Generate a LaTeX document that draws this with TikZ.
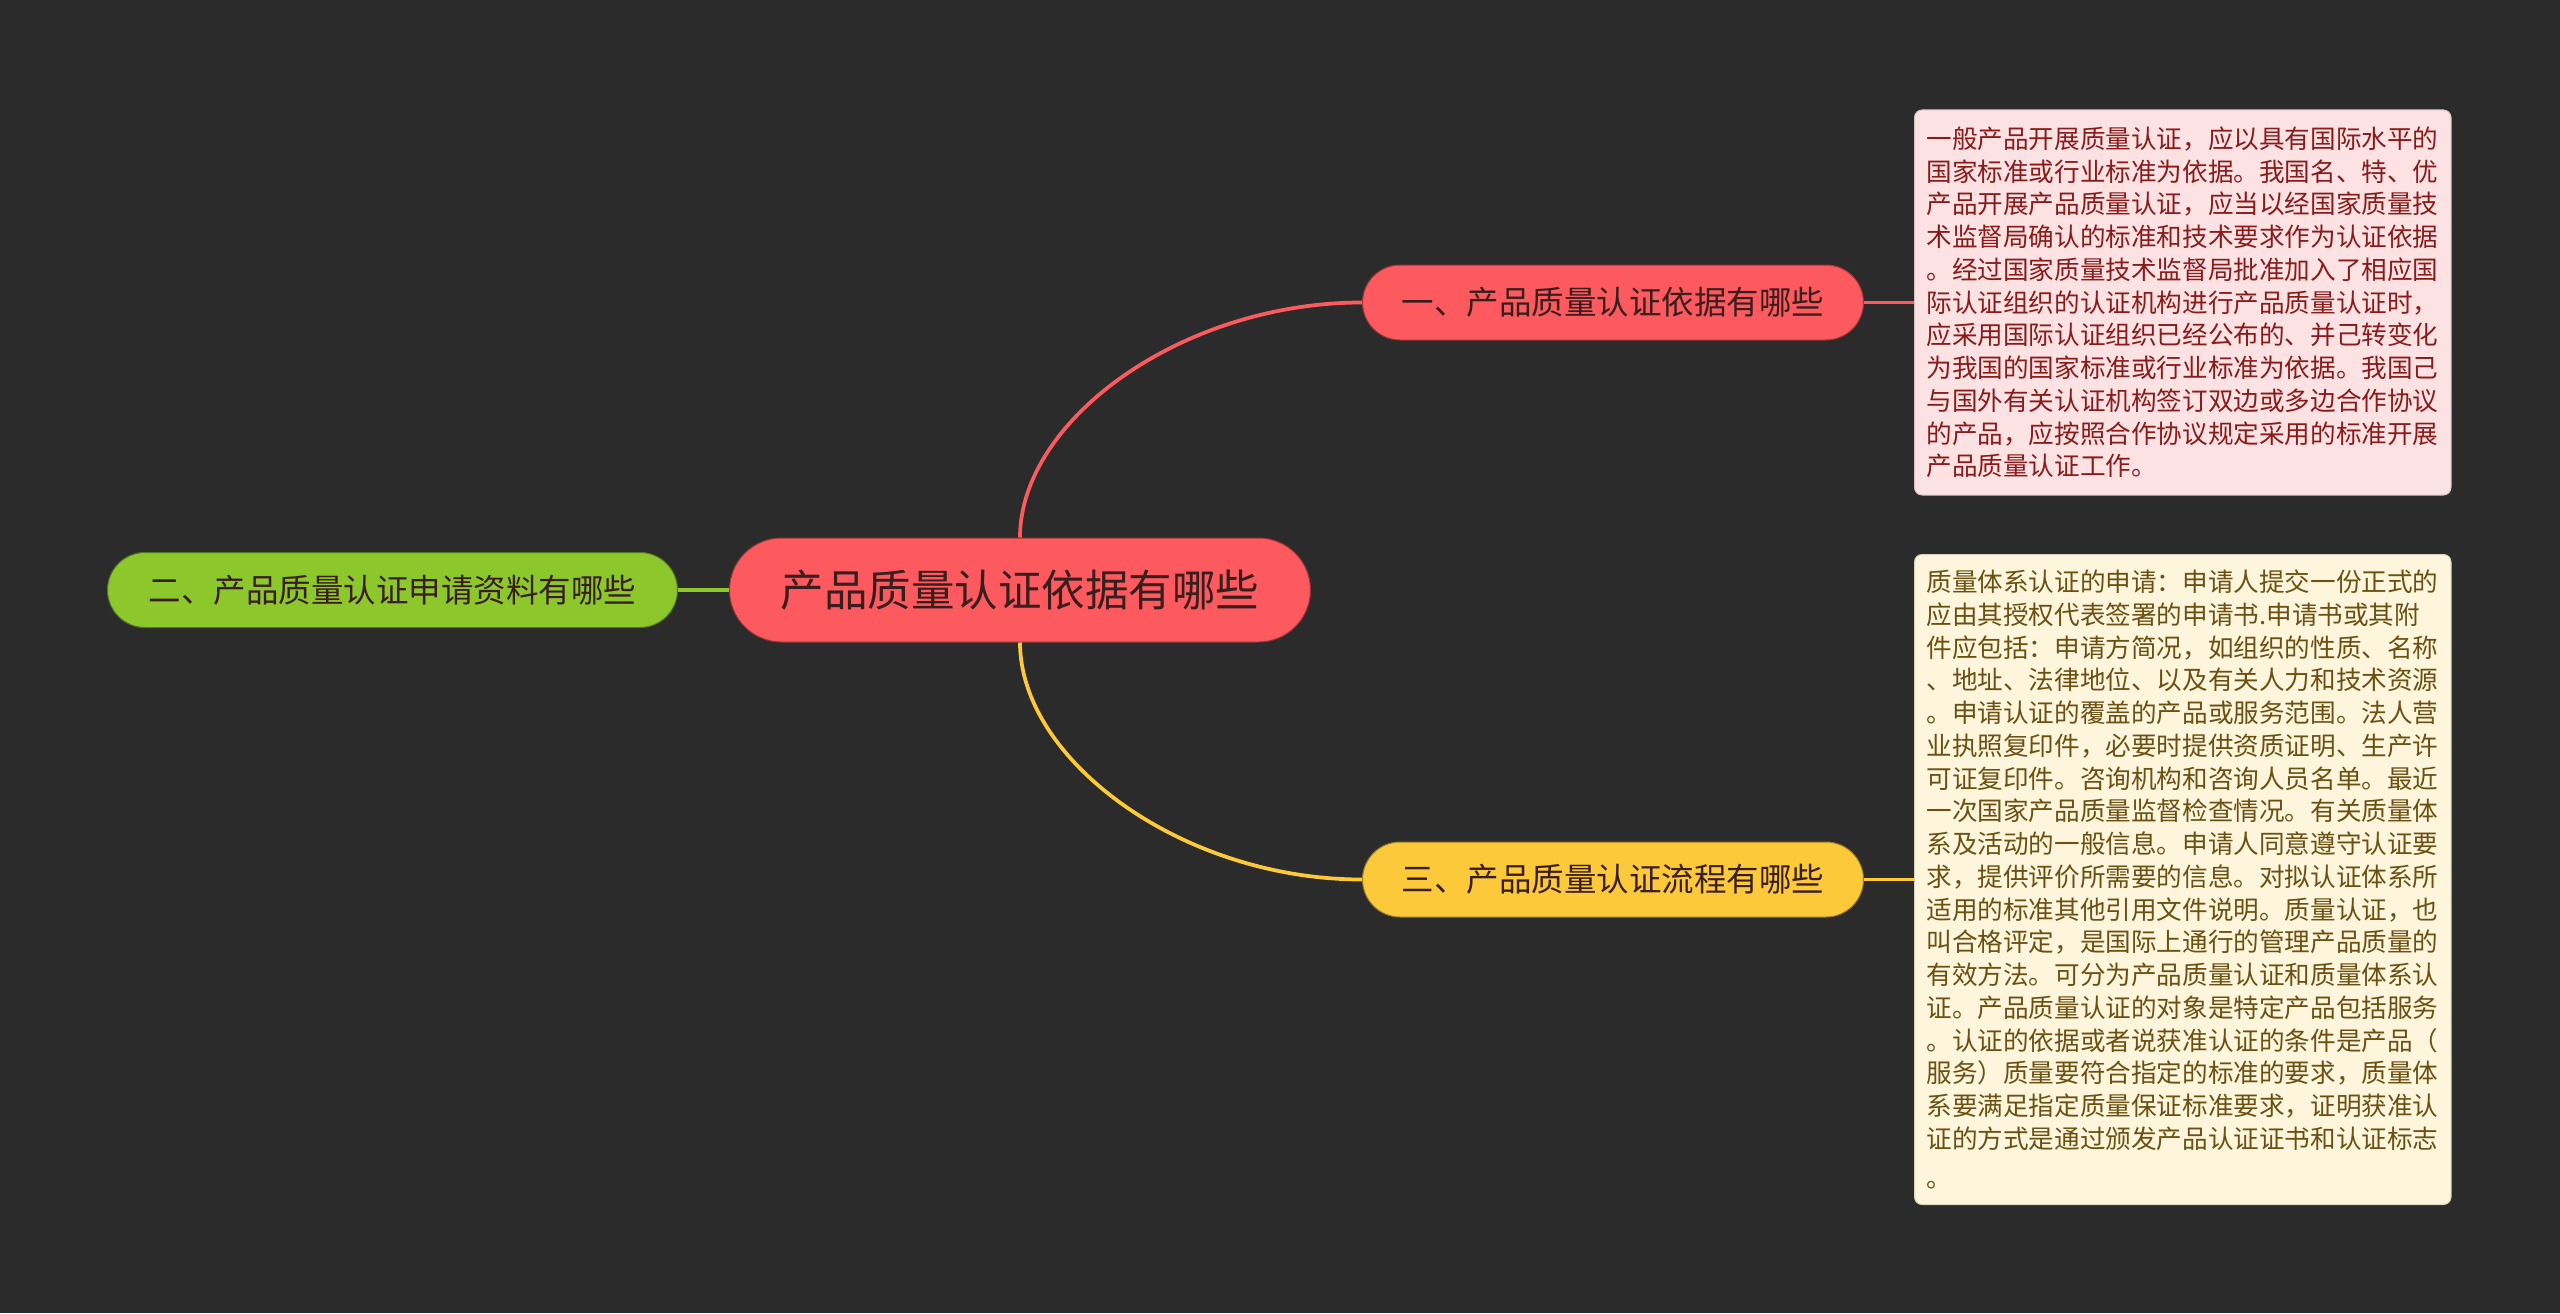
\documentclass[tikz,border=0pt]{standalone}
\usepackage{fontspec}
\setmainfont{Noto Sans CJK SC}
\usetikzlibrary{positioning}
\definecolor{Canvas}{HTML}{2B2B2B}
\definecolor{Coral}{HTML}{FC5A5E}
\definecolor{Ink}{HTML}{3A1E1E}
\definecolor{Lime}{HTML}{8CC72B}
\definecolor{Amber}{HTML}{FBC93A}
\definecolor{Blush}{HTML}{FDE2E3}
\definecolor{Wine}{HTML}{8A1B1B}
\definecolor{Cream}{HTML}{FEF6DC}
\definecolor{Olive}{HTML}{6B5012}

\begin{document}
\begin{tikzpicture}[
  every node/.style={align=center,inner sep=0pt},
  root/.style={rectangle,rounded corners=20.8pt,fill=Coral,draw=Coral!60!black,
    minimum width=232.4pt,minimum height=41.6pt,text=Ink,
    font=\fontsize{17.4pt}{20pt}\selectfont},
  topic/.style={rectangle,rounded corners=15pt,minimum width=200.4pt,
    minimum height=30pt,font=\fontsize{13pt}{15pt}\selectfont},
  memo/.style={rectangle,rounded corners=3pt,text width=205pt,inner xsep=4.8pt,
    align=left,font=\fontsize{10.24pt}{13.1pt}\selectfont},
  link/.style={line width=1.5pt}
]
\useasboundingbox[fill=Canvas] (-408pt,-289.2pt) rectangle (616pt,236pt);

\node[root] (root) {产品质量认证依据有哪些};
\node[topic,fill=Lime,draw=Lime!60!black,text=Ink,minimum width=228pt,
  left=20.4pt of root] (apply) {二、产品质量认证申请资料有哪些};
\node[topic,fill=Coral,draw=Coral!60!black,text=Ink,
  above right=78.8pt and 20.4pt of root] (basis) {一、产品质量认证依据有哪些};
\node[topic,fill=Amber,draw=Amber!60!black,text=Ink,
  below right=79.6pt and 20.4pt of root] (flow) {三、产品质量认证流程有哪些};

\node[memo,fill=Blush,draw=Blush!85!black,text=Wine,minimum height=154pt,
  right=20pt of basis] (basisnote) {一般产品开展质量认证，应以具有国际水平的\\
国家标准或行业标准为依据。我国名、特、优\\
产品开展产品质量认证，应当以经国家质量技\\
术监督局确认的标准和技术要求作为认证依据\\
。经过国家质量技术监督局批准加入了相应国\\
际认证组织的认证机构进行产品质量认证时，\\
应采用国际认证组织已经公布的、并己转变化\\
为我国的国家标准或行业标准为依据。我国己\\
与国外有关认证机构签订双边或多边合作协议\\
的产品，应按照合作协议规定采用的标准开展\\
产品质量认证工作。};

\node[memo,fill=Cream,draw=Cream!85!black,text=Olive,minimum height=260pt,
  right=20pt of flow] (flownote) {质量体系认证的申请：申请人提交一份正式的\\
应由其授权代表签署的申请书.申请书或其附\\
件应包括：申请方简况，如组织的性质、名称\\
、地址、法律地位、以及有关人力和技术资源\\
。申请认证的覆盖的产品或服务范围。法人营\\
业执照复印件，必要时提供资质证明、生产许\\
可证复印件。咨询机构和咨询人员名单。最近\\
一次国家产品质量监督检查情况。有关质量体\\
系及活动的一般信息。申请人同意遵守认证要\\
求，提供评价所需要的信息。对拟认证体系所\\
适用的标准其他引用文件说明。质量认证，也\\
叫合格评定，是国际上通行的管理产品质量的\\
有效方法。可分为产品质量认证和质量体系认\\
证。产品质量认证的对象是特定产品包括服务\\
。认证的依据或者说获准认证的条件是产品（\\
服务）质量要符合指定的标准的要求，质量体\\
系要满足指定质量保证标准要求，证明获准认\\
证的方式是通过颁发产品认证证书和认证标志\\[2.5pt]
。};

% branches
\draw[link,Coral] (root.north) .. controls +(0,47pt) and +(-72pt,0) .. (basis.west);
\draw[link,Amber] (root.south) .. controls +(0,-47pt) and +(-72pt,0) .. (flow.west);
\draw[link,Lime] (apply.east) -- (root.west);
\draw[link,Coral] (basis.east) -- (basisnote.west);
\draw[link,Amber] (flow.east) -- (flownote.west);
\end{tikzpicture}
\end{document}
